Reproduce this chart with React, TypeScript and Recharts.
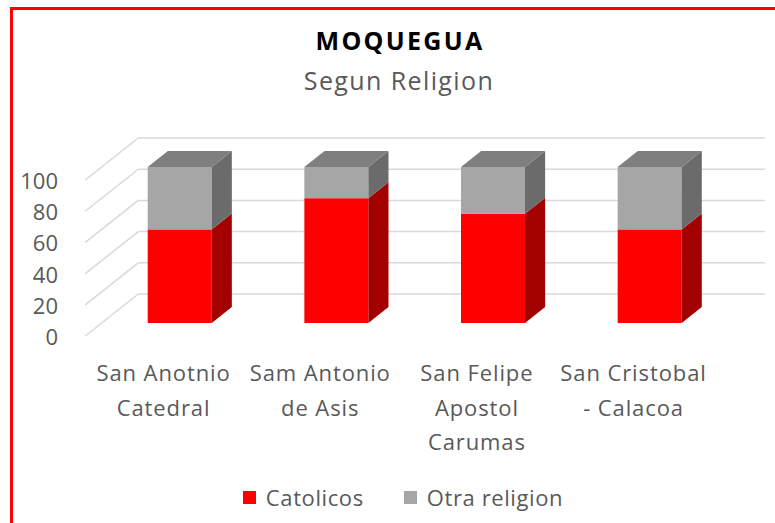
import React from 'react'
import { BarChart, Bar, XAxis, YAxis, CartesianGrid } from 'recharts'

const categories = [
  'San Anotnio\nCatedral',
  'Sam Antonio\nde Asis',
  'San Felipe\nApostol\nCarumas',
  'San Cristobal\n- Calacoa',
]
const catolicos = [60, 80, 70, 60]
const otraReligion = [40, 20, 30, 40]
const yTicks = [0, 20, 40, 60, 80, 100]

const data = categories.map((name, i) => ({
  name,
  catolicos: catolicos[i],
  otra: otraReligion[i],
}))

// fake 3D: full floor depth vector, bars sit between FRONT and FRONT+BAR_DEPTH
const DX = 53
const DY = -42
const FRONT = 0.31
const BAR_DEPTH = 0.38
const Y_AXIS_W = 60
const FONT = '"Open Sans", Calibri, sans-serif'
const TEXT = '#595959'

function make3DBar(front: string, side: string, top: string | null) {
  return (props: any) => {
    const { x, y, width: w, height: h } = props
    if (!w || h == null) return null
    const dx = DX * BAR_DEPTH
    const dy = DY * BAR_DEPTH
    return (
      <g>
        <rect x={x} y={y} width={w} height={h} fill={front} />
        <polygon
          points={`${x + w},${y} ${x + w + dx},${y + dy} ${x + w + dx},${y + h + dy} ${x + w},${y + h}`}
          fill={side}
        />
        {top && (
          <polygon
            points={`${x},${y} ${x + dx},${y + dy} ${x + w + dx},${y + dy} ${x + w},${y}`}
            fill={top}
          />
        )}
      </g>
    )
  }
}

function depthGridLine(props: any) {
  const { x1, x2, y1, index } = props
  const fx = x1 - DX * FRONT
  const fy = y1 - DY * FRONT
  const bx = x1 + DX * (1 - FRONT)
  const by = y1 + DY * (1 - FRONT)
  return (
    <g key={`g-${index}-${y1}`}>
      <line x1={fx} y1={fy} x2={bx} y2={by} stroke="#D9D9D9" strokeWidth={1.5} />
      <line x1={bx} y1={by} x2={x2 + DX * (1 - FRONT)} y2={by} stroke="#D9D9D9" strokeWidth={1.5} />
    </g>
  )
}

function YTick({ y, payload }: any) {
  return (
    <text
      x={58}
      y={y - DY * FRONT}
      textAnchor="end"
      dominantBaseline="central"
      fontSize={22}
      fontFamily={FONT}
      fill={TEXT}
    >
      {payload.value}
    </text>
  )
}

function XTick({ x, y, payload }: any) {
  const lines = String(payload.value).split('\n')
  return (
    <g>
      {lines.map((line, i) => (
        <text
          key={i}
          x={x - DX * FRONT}
          y={y + 49 + i * 34.5}
          textAnchor="middle"
          dominantBaseline="central"
          fontSize={22}
          letterSpacing={0.9}
          fontFamily={FONT}
          fill={TEXT}
        >
          {line}
        </text>
      ))}
    </g>
  )
}

function LegendItem({ color, label }: { color: string; label: string }) {
  return (
    <div style={{ display: 'flex', alignItems: 'center', gap: 10 }}>
      <div style={{ width: 13, height: 13, background: color }} />
      <span>{label}</span>
    </div>
  )
}

export default function App() {
  return (
    <div
      style={{
        position: 'absolute',
        left: 0,
        top: 0,
        width: 775,
        height: 523,
        overflow: 'hidden',
        background: '#fff',
        fontFamily: FONT,
      }}
    >
      <div
        style={{
          position: 'absolute',
          left: 10,
          top: 7,
          width: 820,
          height: 600,
          border: '3px solid #FF0000',
        }}
      />
      <div
        style={{
          position: 'absolute',
          left: 0,
          width: 800,
          top: 25,
          textAlign: 'center',
          fontSize: 25,
          fontWeight: 700,
          letterSpacing: 2.3,
          color: '#000',
          lineHeight: '30px',
        }}
      >
        MOQUEGUA
      </div>
      <div
        style={{
          position: 'absolute',
          left: 0,
          width: 798,
          top: 63,
          textAlign: 'center',
          fontSize: 25,
          letterSpacing: 1.4,
          color: TEXT,
          lineHeight: '34px',
        }}
      >
        Segun Religion
      </div>
      <div style={{ position: 'absolute', left: 0, top: 0 }}>
        <BarChart
          width={775}
          height={523}
          data={data}
          margin={{ top: 167, right: 46.7, left: 101.7 - Y_AXIS_W, bottom: 140 }}
          barSize={64}
        >
          <CartesianGrid vertical={false} horizontal={depthGridLine} />
          <XAxis
            dataKey="name"
            axisLine={false}
            tickLine={false}
            tickSize={0}
            tickMargin={0}
            height={60}
            interval={0}
            tick={<XTick />}
          />
          <YAxis
            domain={[0, 100]}
            ticks={yTicks}
            interval={0}
            width={Y_AXIS_W}
            axisLine={false}
            tickLine={false}
            tick={<YTick />}
          />
          <Bar
            dataKey="catolicos"
            stackId="a"
            fill="#FF0000"
            shape={make3DBar('#FF0000', '#A30000', null)}
            isAnimationActive={false}
          />
          <Bar
            dataKey="otra"
            stackId="a"
            fill="#A6A6A6"
            shape={make3DBar('#A6A6A6', '#6B6B6B', '#7F7F7F')}
            isAnimationActive={false}
          />
        </BarChart>
      </div>
      <div
        style={{
          position: 'absolute',
          left: 0,
          width: 806,
          top: 482,
          display: 'flex',
          justifyContent: 'center',
          gap: 40,
          fontSize: 22,
          letterSpacing: 0.6,
          color: TEXT,
          lineHeight: '30px',
        }}
      >
        <LegendItem color="#FF0000" label="Catolicos" />
        <LegendItem color="#A6A6A6" label="Otra religion" />
      </div>
    </div>
  )
}
